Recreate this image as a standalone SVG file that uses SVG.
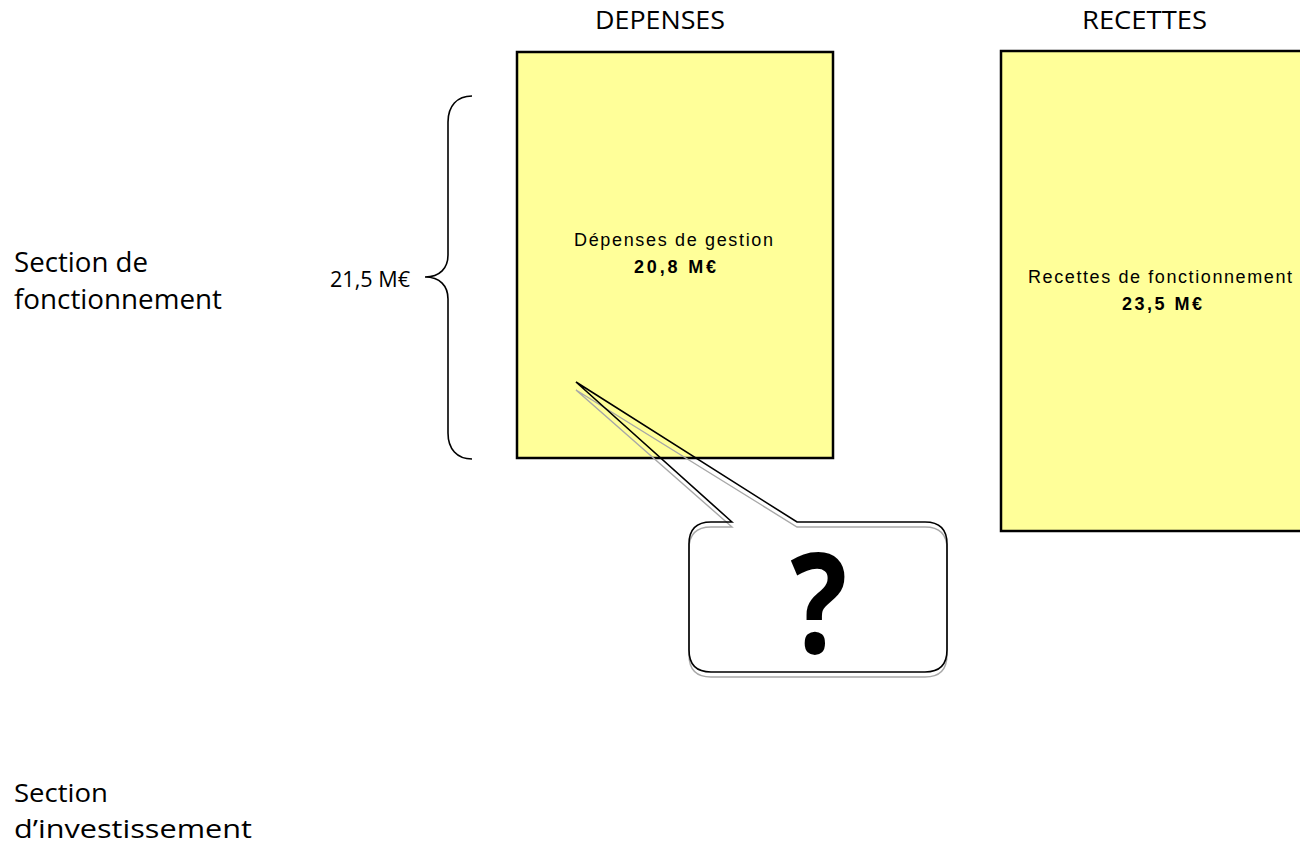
<svg xmlns="http://www.w3.org/2000/svg" width="1300" height="844" viewBox="0 0 1300 844">
<style>
.cal{font-family:"Open Sans","Noto Sans","Liberation Sans",sans-serif;fill:#000}
.ar{font-family:"Liberation Sans",Arial,sans-serif;fill:#000;font-size:18px}
.arb{font-family:"Liberation Sans",Arial,sans-serif;fill:#000;font-size:18px;font-weight:bold}
.box{fill:#FFFF99;stroke:#000;stroke-width:2.5}
.line{fill:none;stroke:#000;stroke-width:1.6}
.shadow{fill:none;stroke:#A8A8A8;stroke-width:1.4}
</style>
<rect width="1300" height="844" fill="#fff"/>
<g id="labels">
<text class="cal" x="595" y="29" font-size="26" textLength="130" lengthAdjust="spacingAndGlyphs">DEPENSES</text>
<text class="cal" x="1082" y="29" font-size="26" textLength="125" lengthAdjust="spacingAndGlyphs">RECETTES</text>
<text class="cal" x="14" y="272" font-size="28" textLength="134" lengthAdjust="spacingAndGlyphs">Section de</text>
<text class="cal" x="14" y="309" font-size="28" textLength="208" lengthAdjust="spacingAndGlyphs">fonctionnement</text>
<text class="cal" x="14" y="802" font-size="26" textLength="94" lengthAdjust="spacingAndGlyphs">Section</text>
<text class="cal" x="14" y="838" font-size="26" textLength="238" lengthAdjust="spacingAndGlyphs">d’investissement</text>
<text class="cal" x="330" y="287" font-size="22" textLength="80" lengthAdjust="spacingAndGlyphs">21,5 M€</text>
</g>
<g id="brace">
<path class="line" d="M472,96 C457,96 448,106 448,122 L448,255 C448,268 440,277 425,277 C440,277 448,286 448,299 L448,433 C448,449 457,459 472,459"/>
</g>
<g id="depenses">
<rect class="box" x="517" y="52" width="316" height="406"/>
<text class="ar" x="574" y="246" textLength="199" lengthAdjust="spacing">Dépenses de gestion</text>
<text class="arb" x="634" y="273" textLength="82" lengthAdjust="spacing">20,8 M€</text>
</g>
<g id="recettes">
<rect class="box" x="1001" y="51" width="320" height="480"/>
<text class="ar" x="1028" y="283" textLength="264" lengthAdjust="spacing">Recettes de fonctionnement</text>
<text class="arb" x="1122" y="310" textLength="80" lengthAdjust="spacing">23,5 M€</text>
</g>
<g id="callout">
<path class="shadow" transform="translate(0,5)" d="M732,522 L576,385 L797,522 L925,522 Q947,522 947,544 L947,650 Q947,672 925,672 L711,672 Q689,672 689,650 L689,544 Q689,522 711,522 Z"/>
<path class="line" d="M732,522 L576,382 L797,522 L925,522 Q947,522 947,544 L947,650 Q947,672 925,672 L711,672 Q689,672 689,650 L689,544 Q689,522 711,522 Z"/>
<text font-family="'Open Sans','Noto Sans',sans-serif" font-weight="bold" font-size="140" text-anchor="middle" transform="translate(819,653) scale(0.85,1)">?</text>
</g>
</svg>
